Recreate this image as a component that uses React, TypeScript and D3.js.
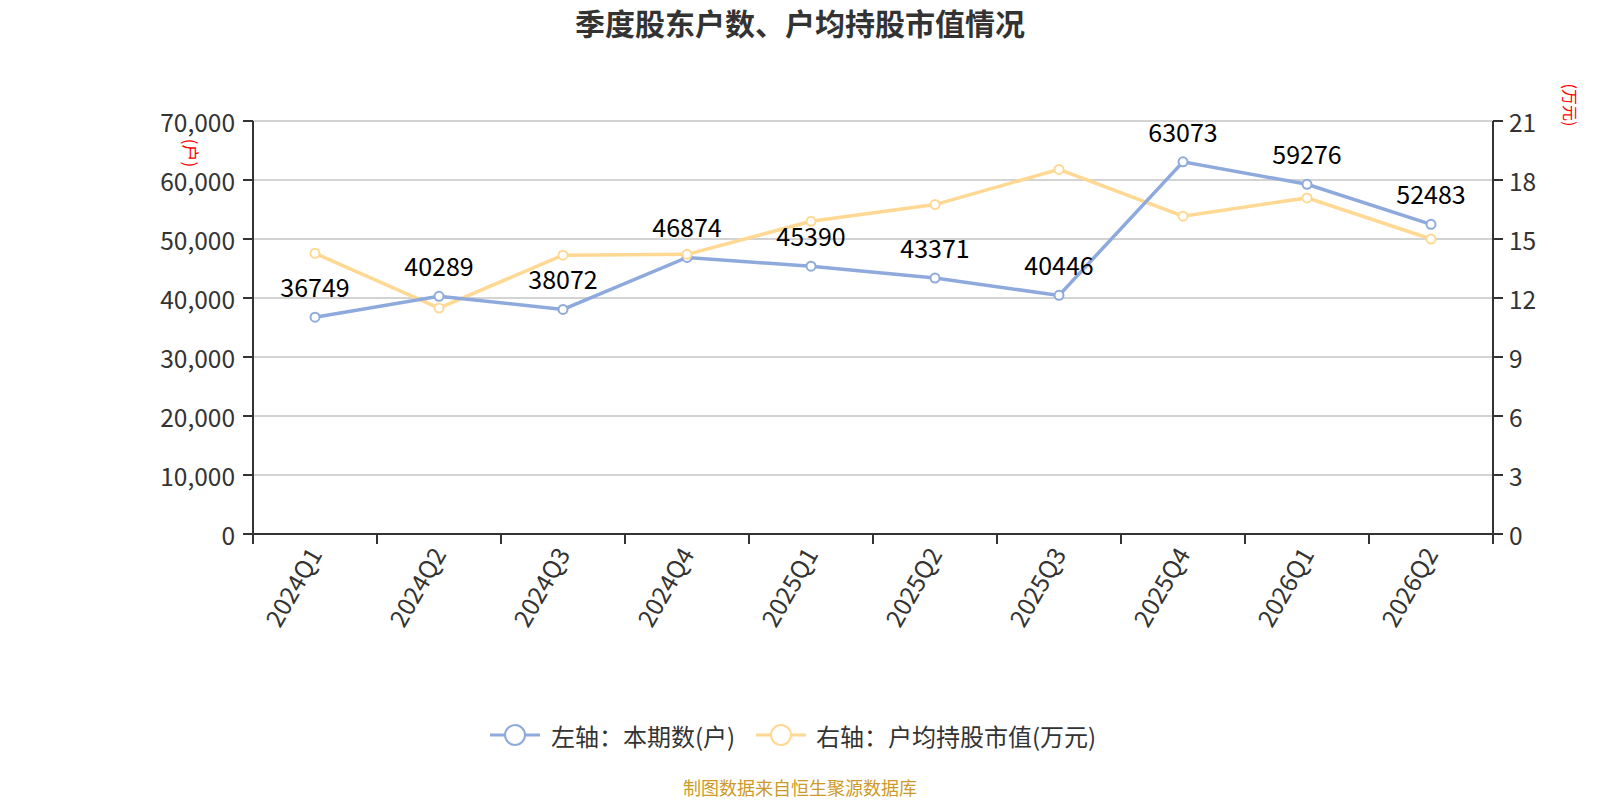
import React from 'react';
import * as d3 from 'd3';

const quarters = ['2024Q1', '2024Q2', '2024Q3', '2024Q4', '2025Q1', '2025Q2', '2025Q3', '2025Q4', '2026Q1', '2026Q2'];
const holders = [36749, 40289, 38072, 46874, 45390, 43371, 40446, 63073, 59276, 52483];
const avgValue = [14.27, 11.49, 14.18, 14.22, 15.9, 16.75, 18.54, 16.16, 17.09, 15.0];
const leftTicks = [0, 10000, 20000, 30000, 40000, 50000, 60000, 70000];
const rightTicks = [0, 3, 6, 9, 12, 15, 18, 21];

const W = 1600;
const H = 800;
const M = { left: 253, right: 1493, top: 121, bottom: 534 };
const FONT = '"Noto Sans CJK SC", "Noto Sans", sans-serif';
const BLUE = '#8eaadc';
const YELLOW = '#ffd894';
const AXIS = '#333';

export default function App() {
  const x = d3.scaleBand().domain(quarters).range([M.left, M.right]);
  const yL = d3.scaleLinear().domain([0, 70000]).range([M.bottom, M.top]);
  const yR = d3.scaleLinear().domain([0, 21]).range([M.bottom, M.top]);
  const cx = (q: string) => (x(q) as number) + x.bandwidth() / 2;
  const fmt = d3.format(',');

  const lineL = d3.line<number>().x((_, i) => cx(quarters[i])).y(d => yL(d));
  const lineR = d3.line<number>().x((_, i) => cx(quarters[i])).y(d => yR(d));

  const bounds = [...quarters.map(q => x(q) as number), M.right];

  return (
    <svg width={W} height={H} style={{ position: 'absolute', left: 0, top: 0, background: '#fff' }} fontFamily={FONT}>
      <text x={800} y={22} textAnchor="middle" dominantBaseline="central" fontSize={30} fontWeight="bold" fill="#333">
        季度股东户数、户均持股市值情况
      </text>

      {/* grid */}
      {leftTicks.slice(1).map(t => (
        <line key={t} x1={M.left} x2={M.right} y1={yL(t)} y2={yL(t)} stroke="#c4c4c4" strokeWidth={1.5} />
      ))}

      {/* left axis */}
      <line x1={M.left} x2={M.left} y1={M.top} y2={M.bottom} stroke={AXIS} strokeWidth={2} />
      {leftTicks.map(t => (
        <g key={t}>
          <line x1={M.left - 10} x2={M.left} y1={yL(t)} y2={yL(t)} stroke={AXIS} strokeWidth={2} />
          <text x={M.left - 18} y={yL(t)} textAnchor="end" dominantBaseline="central" fontSize={24.5} fill="#333">
            {fmt(t)}
          </text>
        </g>
      ))}
      <text transform={`translate(191,153) rotate(90)`} textAnchor="middle" dominantBaseline="central" fontSize={17} fill="#f00">
        (户)
      </text>

      {/* right axis */}
      <line x1={M.right} x2={M.right} y1={M.top} y2={M.bottom} stroke={AXIS} strokeWidth={2} />
      {rightTicks.map(t => (
        <g key={t}>
          <line x1={M.right} x2={M.right + 10} y1={yR(t)} y2={yR(t)} stroke={AXIS} strokeWidth={2} />
          <text x={M.right + 16} y={yR(t)} textAnchor="start" dominantBaseline="central" fontSize={24.5} fill="#333">
            {t}
          </text>
        </g>
      ))}
      <text transform={`translate(1571,105) rotate(90)`} textAnchor="middle" dominantBaseline="central" fontSize={16} fill="#f00">
        (万元)
      </text>

      {/* x axis */}
      <line x1={M.left} x2={M.right} y1={M.bottom} y2={M.bottom} stroke={AXIS} strokeWidth={2} />
      {bounds.map((b, i) => (
        <line key={i} x1={b} x2={b} y1={M.bottom} y2={M.bottom + 10} stroke={AXIS} strokeWidth={2} />
      ))}
      {quarters.map(q => (
        <text key={q} transform={`translate(${cx(q) - 1},${M.bottom + 15}) rotate(-60)`} textAnchor="end" dominantBaseline="central" fontSize={24.5} fill="#333">
          {q}
        </text>
      ))}

      {/* lines */}
      <path d={lineR(avgValue) as string} fill="none" stroke={YELLOW} strokeWidth={3.5} />
      <path d={lineL(holders) as string} fill="none" stroke={BLUE} strokeWidth={3.5} />
      {holders.map((v, i) => (
        <circle key={'b' + i} cx={cx(quarters[i])} cy={yL(v)} r={4.5} fill="#fff" stroke={BLUE} strokeWidth={2} />
      ))}
      {avgValue.map((v, i) => (
        <circle key={'y' + i} cx={cx(quarters[i])} cy={yR(v)} r={4.5} fill="#fff" stroke={YELLOW} strokeWidth={2} />
      ))}
      {holders.map((v, i) => (
        <text key={'l' + i} x={cx(quarters[i])} y={yL(v) - 20} textAnchor="middle" fontSize={25} fill="#000">
          {v}
        </text>
      ))}

      {/* legend */}
      <g>
        <line x1={490} x2={540} y1={735} y2={735} stroke={BLUE} strokeWidth={3} />
        <circle cx={515} cy={735} r={10} fill="#fff" stroke={BLUE} strokeWidth={2} />
        <text x={551} y={735} dominantBaseline="central" fontSize={24} fill="#333">左轴：本期数(户)</text>
        <line x1={756} x2={806} y1={735} y2={735} stroke={YELLOW} strokeWidth={3} />
        <circle cx={781} cy={735} r={10} fill="#fff" stroke={YELLOW} strokeWidth={2} />
        <text x={816} y={735} dominantBaseline="central" fontSize={24} fill="#333">右轴：户均持股市值(万元)</text>
      </g>

      <text x={800} y={787} textAnchor="middle" dominantBaseline="central" fontSize={18} fill="#cc9a2a">
        制图数据来自恒生聚源数据库
      </text>
    </svg>
  );
}
